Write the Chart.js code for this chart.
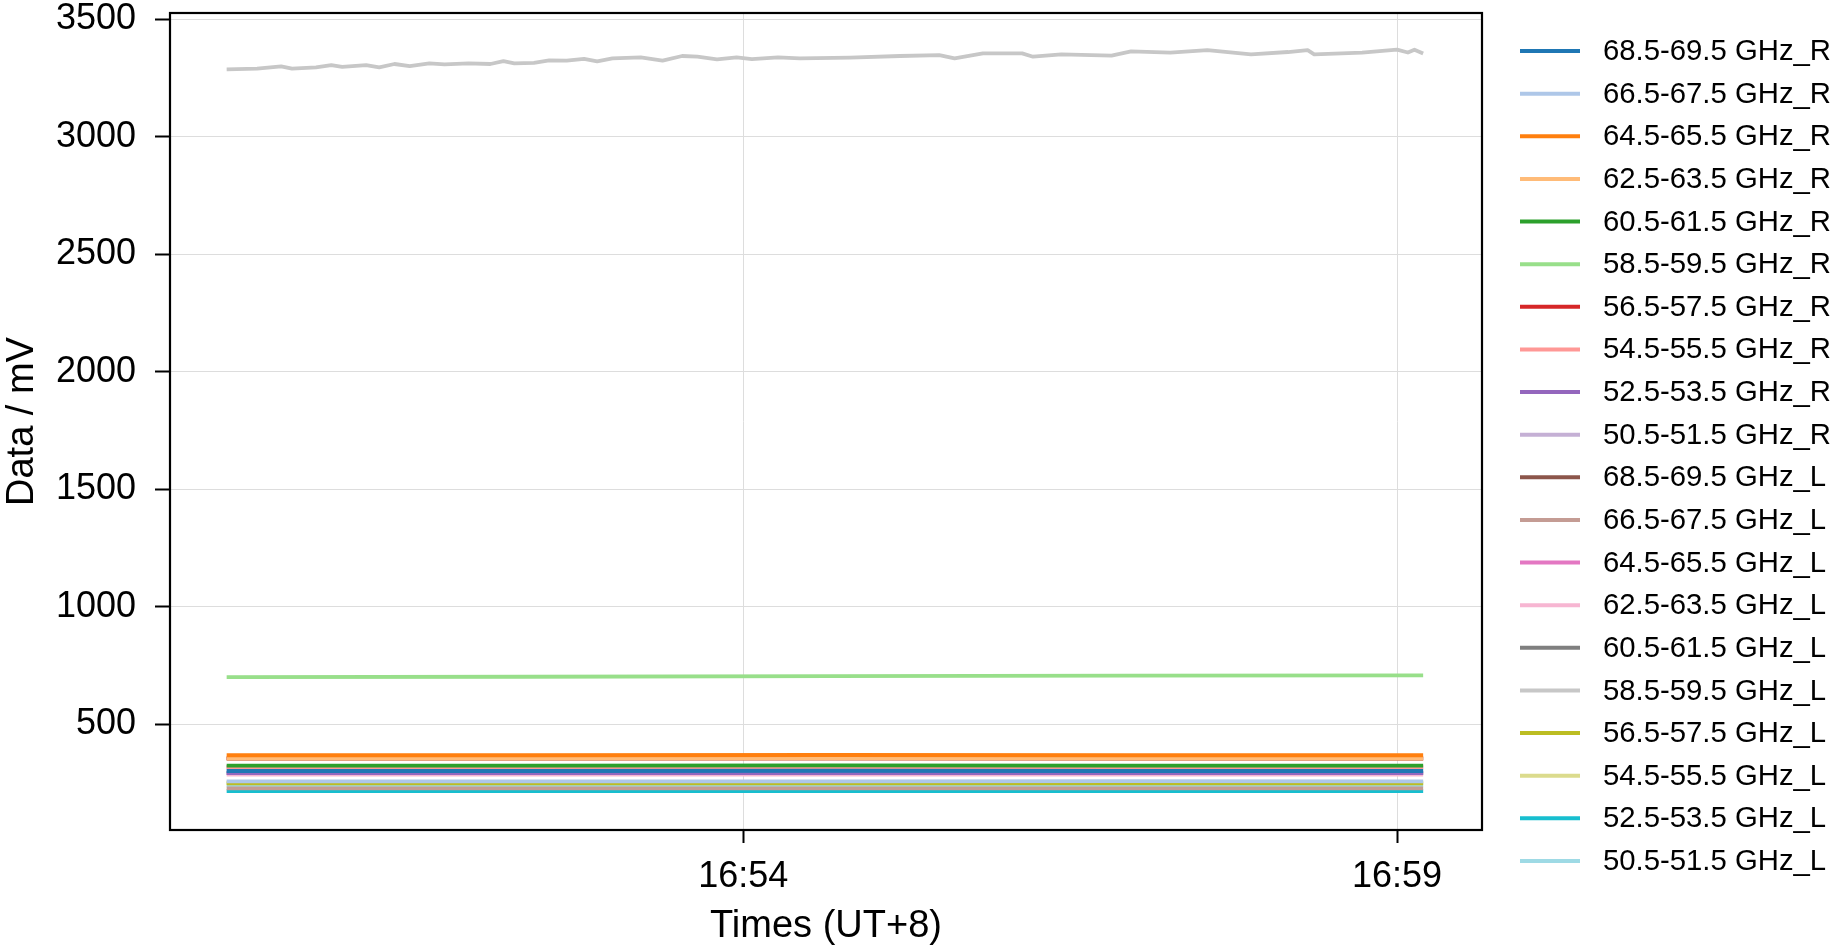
<!DOCTYPE html>
<html>
<head>
<meta charset="utf-8">
<script src="https://cdn.jsdelivr.net/npm/chart.js@4.4.1/dist/chart.umd.min.js"></script>
<style>
html, body { margin: 0; padding: 0; background: #fff; }
canvas { display: block; }
</style>
</head>
<body>
<canvas id="myChart" width="1847" height="949"></canvas>
<script>
// time in seconds after 16:50:00
var fineTimes = [3, 17, 28, 33, 44, 51, 56, 67, 73, 80, 87, 96, 103, 114, 124, 130, 135, 144, 151, 159,
    167, 173, 180, 193, 203, 212, 219, 228, 237, 244, 256, 266, 289, 312, 330, 337, 350, 368, 373, 386,
    409, 418, 436, 453, 473, 490, 499, 502, 524, 540, 545, 548, 552];
var coarseTimes = [3, 140, 280, 415, 552];

var labels = ['68.5-69.5 GHz_R', '66.5-67.5 GHz_R', '64.5-65.5 GHz_R', '62.5-63.5 GHz_R', '60.5-61.5 GHz_R',
    '58.5-59.5 GHz_R', '56.5-57.5 GHz_R', '54.5-55.5 GHz_R', '52.5-53.5 GHz_R', '50.5-51.5 GHz_R',
    '68.5-69.5 GHz_L', '66.5-67.5 GHz_L', '64.5-65.5 GHz_L', '62.5-63.5 GHz_L', '60.5-61.5 GHz_L',
    '58.5-59.5 GHz_L', '56.5-57.5 GHz_L', '54.5-55.5 GHz_L', '52.5-53.5 GHz_L', '50.5-51.5 GHz_L'];
var colors = ['#1f77b4', '#aec7e8', '#ff7f0e', '#ffbb78', '#2ca02c', '#98df8a', '#d62728', '#ff9896',
    '#9467bd', '#c5b0d5', '#8c564b', '#c49c94', '#e377c2', '#f7b6d2', '#7f7f7f', '#c7c7c7',
    '#bcbd22', '#dbdb8d', '#17becf', '#9edae5'];

// values in mV
var r68 = [301, 301, 302, 301, 301];
var r66 = [257, 257, 257, 258, 257];
var r64 = [368, 368, 369, 368, 368];
var r62 = [354, 354, 355, 354, 354];
var r60 = [324, 324, 325, 324, 324];
var r58 = [700, 702, 705, 707, 708];
var r56 = [355, 355, 355, 355, 355];
var r54 = [317, 317, 317, 317, 317];
var r52 = [292, 292, 292, 292, 292];
var r50 = [295, 295, 295, 295, 295];
var l68 = [354, 354, 355, 354, 354];
var l66 = [227, 227, 227, 227, 227];
var l64 = [317, 317, 318, 317, 317];
var l62 = [286, 286, 286, 286, 286];
var l60 = [292, 292, 293, 292, 292];
var l58 = [3286, 3289, 3299, 3289, 3295, 3304, 3297, 3304, 3295, 3309, 3300, 3312, 3307, 3312, 3309, 3321, 3312, 3314, 3324, 3323,
    3331, 3320, 3333, 3337, 3323, 3343, 3340, 3329, 3337, 3330, 3337, 3333, 3336, 3343, 3347, 3333, 3354, 3354, 3340, 3350,
    3345, 3363, 3357, 3368, 3350, 3360, 3368, 3350, 3357, 3370, 3358, 3370, 3354];
var l56 = [248, 248, 248, 248, 248];
var l54 = [252, 252, 253, 252, 252];
var l52 = [215, 215, 216, 215, 215];
var l50 = [240, 240, 241, 240, 240];

var series = [r68, r66, r64, r62, r60, r58, r56, r54, r52, r50, l68, l66, l64, l62, l60, l58, l56, l54, l52, l50];

var xTickValues = [240, 540];
var xTickLabels = ['16:54', '16:59'];
var yTickValues = [500, 1000, 1500, 2000, 2500, 3000, 3500];

Chart.defaults.font.family = "'Liberation Sans', Arial, sans-serif";
Chart.defaults.color = '#000';

var datasets = series.map(function (vals, i) {
    var t = vals.length === fineTimes.length ? fineTimes : coarseTimes;
    return {
        label: labels[i],
        borderColor: colors[i],
        backgroundColor: colors[i],
        borderWidth: 3.8,
        borderJoinStyle: 'round',
        pointRadius: 0,
        tension: 0,
        data: vals.map(function (v, k) { return { x: t[k], y: v }; })
    };
});

// black frame round the plot area
var framePlugin = {
    id: 'frame',
    afterDatasetsDraw: function (chart) {
        var a = chart.chartArea, ctx = chart.ctx;
        ctx.save();
        ctx.strokeStyle = '#000';
        ctx.lineWidth = 2.2;
        ctx.strokeRect(a.left, a.top, a.right - a.left, a.bottom - a.top);
        ctx.restore();
    }
};

// legend to the right, one line per series
var legendPlugin = {
    id: 'sideLegend',
    afterDraw: function (chart) {
        var ctx = chart.ctx;
        ctx.save();
        ctx.font = "29.3px 'Liberation Sans', Arial, sans-serif";
        ctx.textBaseline = 'middle';
        ctx.fillStyle = '#000';
        chart.data.datasets.forEach(function (ds, i) {
            var y = 51 + i * 42.63;
            ctx.strokeStyle = ds.borderColor;
            ctx.lineWidth = 4;
            ctx.beginPath();
            ctx.moveTo(1520, y);
            ctx.lineTo(1580, y);
            ctx.stroke();
            ctx.fillText(ds.label, 1603, y + 1);
        });
        ctx.restore();
    }
};

const ctxc = document.getElementById('myChart');
const chart = new Chart(ctxc, {
    type: 'line',
    data: { datasets: datasets },
    options: {
        responsive: false,
        devicePixelRatio: 1,
        animation: false,
        layout: {
            autoPadding: false,
            padding: { left: 0, top: 13, right: 365, bottom: 0 }
        },
        plugins: {
            legend: { display: false },
            tooltip: { enabled: false }
        },
        scales: {
            x: {
                type: 'linear',
                min: -23,
                max: 579,
                afterBuildTicks: function (s) {
                    s.ticks = xTickValues.map(function (v) { return { value: v }; });
                },
                afterFit: function (s) {
                    s.height = 119;
                    s.paddingLeft = 0;
                    s.paddingRight = 0;
                },
                ticks: {
                    autoSkip: false,
                    maxRotation: 0,
                    padding: 12,
                    font: { size: 36 },
                    callback: function (v) { return xTickLabels[xTickValues.indexOf(v)]; }
                },
                grid: { color: '#dddddd', lineWidth: 1, tickColor: '#000', tickWidth: 2, tickLength: 13 },
                border: { display: false },
                title: { display: true, text: 'Times (UT+8)', font: { size: 38 }, padding: { top: 0, bottom: 0 } }
            },
            y: {
                type: 'linear',
                min: 50,
                max: 3526,
                afterBuildTicks: function (s) {
                    s.ticks = yTickValues.map(function (v) { return { value: v }; });
                },
                afterFit: function (s) {
                    s.width = 170;
                    s.paddingTop = 0;
                    s.paddingBottom = 0;
                },
                ticks: {
                    padding: 19,
                    font: { size: 36 },
                    callback: function (v) { return String(v); }
                },
                grid: { color: '#dddddd', lineWidth: 1, tickColor: '#000', tickWidth: 2, tickLength: 15 },
                border: { display: false },
                title: { display: true, text: 'Data / mV', font: { size: 38 }, padding: { top: 0, bottom: 0 } }
            }
        }
    },
    plugins: [framePlugin, legendPlugin]
});
</script>
</body>
</html>
